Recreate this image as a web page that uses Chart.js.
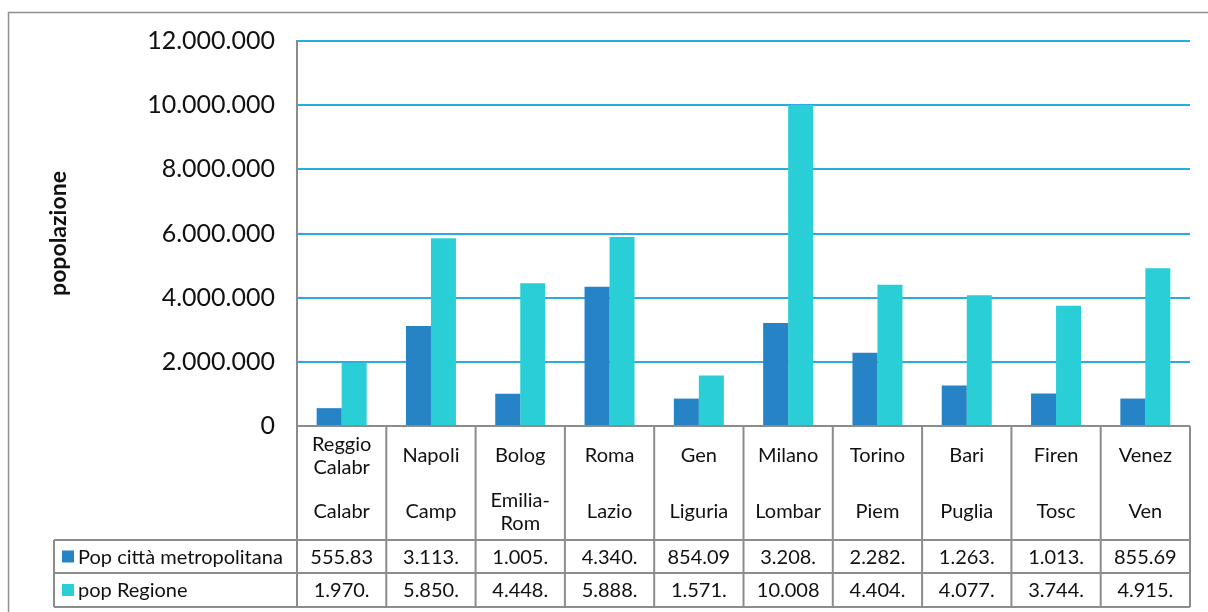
<!DOCTYPE html>
<html>
<head>
<meta charset="utf-8">
<script src="https://cdn.jsdelivr.net/npm/chart.js@4"></script>
<style>
  html, body { margin: 0; padding: 0; background: #fff; }
  #wrap { width: 1208px; height: 612px; }
</style>
</head>
<body>
<div id="wrap"><canvas id="popChart" width="1208" height="612"></canvas></div>
<script>
/* Data -- two level categories: city (top) and region (bottom) */
let cities = [ ['Reggio', 'Calabr'], 'Napoli', 'Bolog', 'Roma', 'Gen', 'Milano', 'Torino', 'Bari', 'Firen', 'Venez' ]
let regions = [ 'Calabr', 'Camp', ['Emilia-', 'Rom'], 'Lazio', 'Liguria', 'Lombar', 'Piem', 'Puglia', 'Tosc', 'Ven' ]
let popMetro = [ 555836, 3113898, 1005831, 4340474, 854099, 3208509, 2282127, 1263820, 1013348, 855696 ]
let popRegione = [ 1970521, 5850850, 4448146, 5888472, 1571053, 10008349, 4404246, 4077166, 3744398, 4915123 ]
let seriesNames = [ 'Pop città metropolitana', 'pop Regione' ]
let seriesColors = [ '#2683C6', '#29CED7' ]
let yMax = 12000000
let yStep = 2000000

let FONT = 'Lato, "DejaVu Sans", sans-serif'
let lineGray = '#8c8c8c'

// 1234567 -> 1.234.567
function fmt(v) {
    return String(Math.round(v)).replace(/\B(?=(\d{3})+(?!\d))/g, '.')
}

/* Excel style data table under the plot, built from the x scale */
let dataTable = {
    id: 'dataTable',
    beforeDraw(chart) {
        let ctx = chart.ctx
        ctx.save()
        ctx.strokeStyle = '#8f8f8f'
        ctx.lineWidth = 1.5
        ctx.beginPath()
        ctx.moveTo(8.5, 612)
        ctx.lineTo(8.5, 12.5)
        ctx.lineTo(1208, 12.5)
        ctx.stroke()
        ctx.restore()
    },
    afterDraw(chart) {
        let ctx = chart.ctx
        let xs = chart.scales.x
        let area = chart.chartArea
        let n = cities.length
        let colW = (area.right - area.left) / n
        let headTop = area.bottom, headBot = 540, row1 = 573, row2 = 607
        let legLeft = 54

        ctx.save()
        ctx.strokeStyle = lineGray
        ctx.lineWidth = 2
        ctx.beginPath()
        // horizontal lines
        ctx.moveTo(area.left, headTop); ctx.lineTo(area.right, headTop)
        for (let y of [headBot, row1, row2]) {
            ctx.moveTo(legLeft, y); ctx.lineTo(area.right, y)
        }
        // vertical lines
        ctx.moveTo(legLeft, headBot); ctx.lineTo(legLeft, row2)
        for (let i = 0; i <= n; i++) {
            let x = area.left + i * colW
            ctx.moveTo(x, headTop); ctx.lineTo(x, row2)
        }
        ctx.stroke()

        ctx.fillStyle = '#111'
        ctx.font = '20px ' + FONT
        ctx.textAlign = 'center'
        ctx.textBaseline = 'middle'

        function multi(text, cx, cy) {
            let lines = Array.isArray(text) ? text : [text]
            let lh = 23
            let y0 = cy - (lines.length - 1) * lh / 2
            lines.forEach((l, k) => ctx.fillText(l, cx, y0 + k * lh))
        }

        // values are cut like Excel does when the cell is too narrow
        let maxW = ctx.measureText('10.008').width + 3
        function cut(s) {
            while (s.length > 1 && ctx.measureText(s).width > maxW) s = s.slice(0, -1)
            return s
        }

        for (let i = 0; i < n; i++) {
            let cx = xs.getPixelForValue(i)
            multi(cities[i], cx, 456)
            multi(regions[i], cx, 512)
            ctx.fillText(cut(fmt(popMetro[i])), cx, (headBot + row1) / 2 + 1)
            ctx.fillText(cut(fmt(popRegione[i])), cx, (row1 + row2) / 2 + 1)
        }

        // legend keys
        ctx.textAlign = 'left'
        let rows = [ (headBot + row1) / 2, (row1 + row2) / 2 ]
        rows.forEach((cy, k) => {
            ctx.fillStyle = seriesColors[k]
            ctx.fillRect(62, cy - 6, 12, 12)
            ctx.fillStyle = '#111'
            ctx.fillText(seriesNames[k], 78, cy + 1)
        })
        ctx.restore()
    }
}

let ctx = document.querySelector('#popChart').getContext('2d')

let popChart = new Chart(ctx, {
    type: 'bar',
    data: {
        labels: cities.map(c => Array.isArray(c) ? c.join(' ') : c),
        datasets: [
            { label: seriesNames[0], data: popMetro, backgroundColor: seriesColors[0] },
            { label: seriesNames[1], data: popRegione, backgroundColor: seriesColors[1] }
        ]
    },
    options: {
        responsive: false,
        animation: false,
        layout: { padding: { top: 41, right: 18, bottom: 186, left: 0 } },
        datasets: { bar: { barPercentage: 1, categoryPercentage: 0.56 } },
        plugins: {
            legend: { display: false },
            tooltip: { enabled: false }
        },
        scales: {
            x: { display: false },
            y: {
                min: 0,
                max: yMax,
                ticks: {
                    stepSize: yStep,
                    padding: 22,
                    color: '#111',
                    font: { family: FONT, size: 25 },
                    callback: v => fmt(v)
                },
                grid: { color: '#29ABE2', lineWidth: 2, drawTicks: false },
                border: { color: lineGray, width: 2 },
                title: {
                    display: true,
                    text: 'popolazione',
                    color: '#111',
                    font: { family: FONT, size: 23, weight: 'bold' },
                    padding: { top: 45, bottom: 0 }
                },
                afterFit(scale) { scale.width = 297 }
            }
        }
    },
    plugins: [ dataTable ]
})
</script>
</body>
</html>
